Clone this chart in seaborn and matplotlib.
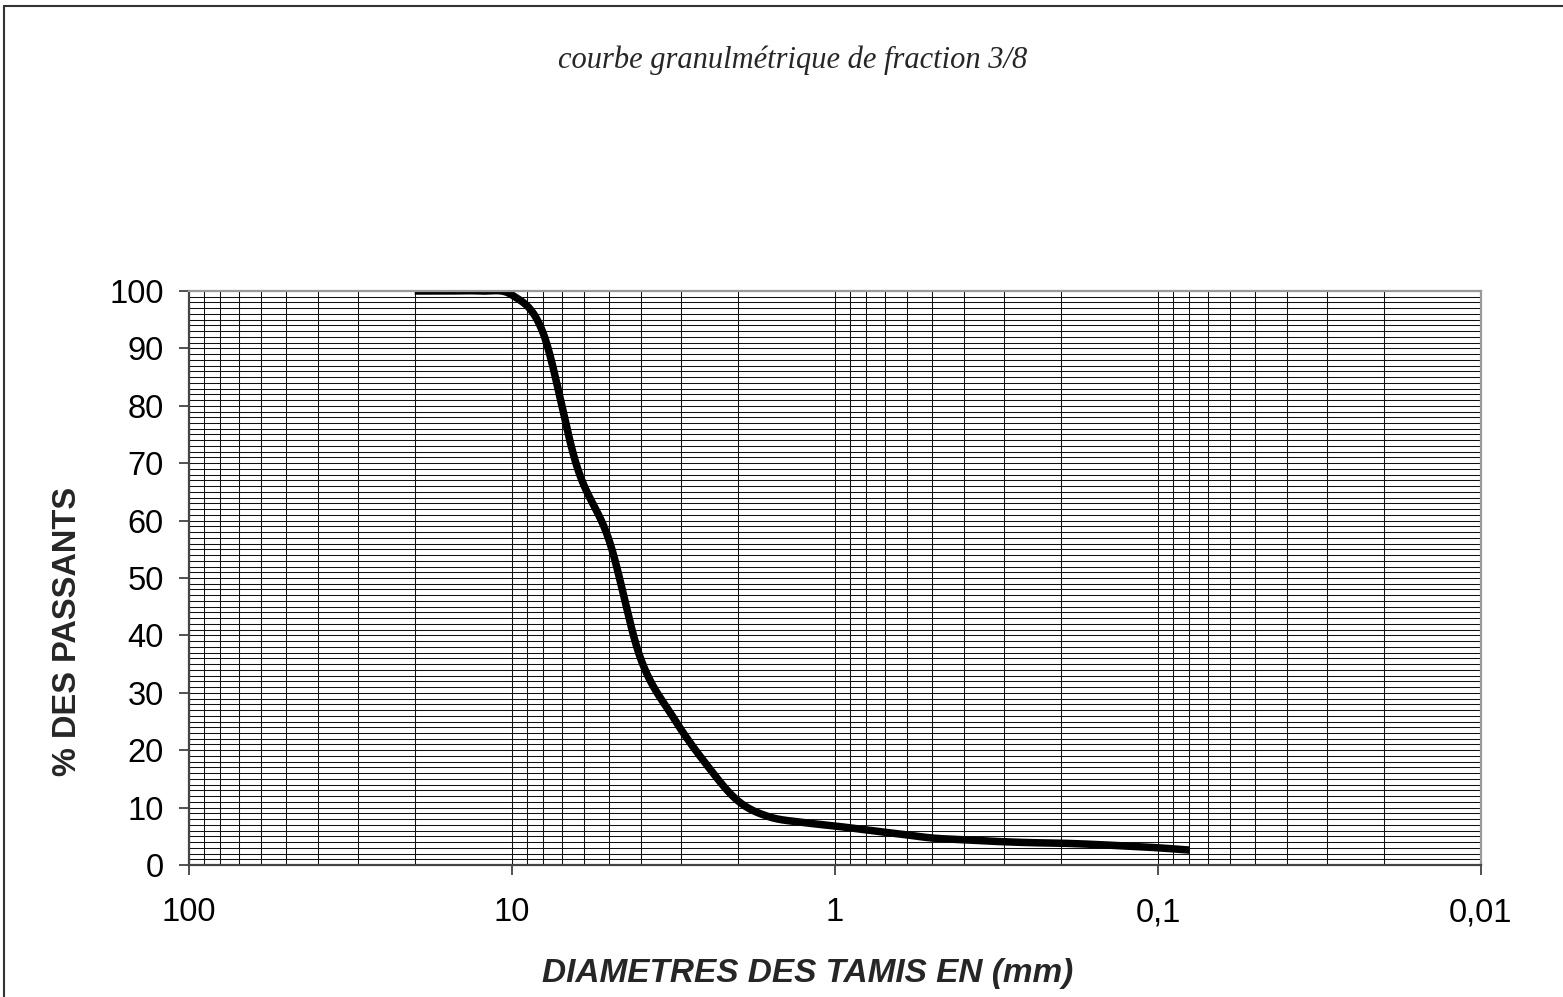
import numpy as np
import pandas as pd
import matplotlib
matplotlib.use("Agg")
import matplotlib.pyplot as plt
import matplotlib.ticker as mticker
from matplotlib.lines import Line2D
import seaborn as sns

# Sieve openings (mm) and cumulative passing (%) for the 3/8 fraction
sieve_mm = [20, 16, 12.5, 10, 8, 6.3, 5, 4, 3.15, 2.5, 2, 1.6, 1.25, 1,
            0.8, 0.63, 0.5, 0.4, 0.315, 0.25, 0.2, 0.16, 0.125, 0.1, 0.08]
passing_pct = [100, 100, 100, 99.3, 92.6, 69.5, 56.5, 36.0, 25.5, 17.5, 11.2,
               8.4, 7.4, 6.8, 6.1, 5.4, 4.7, 4.4, 4.1, 3.9, 3.8, 3.6, 3.3,
               3.0, 2.6]

x_ticks = [100, 10, 1, 0.1, 0.01]
x_tick_labels = ["100", "10", "1", "0,1", "0,01"]
y_ticks = list(range(0, 101, 10))

title_text = "courbe granulmétrique de fraction 3/8"
x_label = "DIAMETRES DES TAMIS EN (mm)"
y_label = "% DES PASSANTS"


def smooth_curve(xs, ys, n=24):
    """Spreadsheet-style smoothed line: cubic Bezier segments through each
    point, built in log10(x) space so the curve looks smooth on a log axis."""
    lx = np.log10(np.asarray(xs, dtype=float))
    yy = np.asarray(ys, dtype=float)
    pts = np.column_stack([lx, yy])
    out = []
    m = len(pts)
    for i in range(m - 1):
        p0 = pts[i - 1] if i > 0 else pts[i]
        p1, p2 = pts[i], pts[i + 1]
        p3 = pts[i + 2] if i + 2 < m else pts[i + 1]
        c1 = p1 + (p2 - p0) / 6.0
        c2 = p2 - (p3 - p1) / 6.0
        t = np.linspace(0, 1, n, endpoint=(i == m - 2))[:, None]
        seg = ((1 - t) ** 3) * p1 + 3 * ((1 - t) ** 2) * t * c1 \
            + 3 * (1 - t) * (t ** 2) * c2 + (t ** 3) * p2
        out.append(seg)
    arr = np.vstack(out)
    return pd.DataFrame({"diam": 10 ** arr[:, 0], "passing": arr[:, 1]})


sns.set_theme(style="white")
plt.rcParams["font.family"] = ["Liberation Sans", "DejaVu Sans"]

W, H, DPI = 1563, 997, 100
fig = plt.figure(figsize=(W / DPI, H / DPI), dpi=DPI)
fig.patch.set_facecolor("white")

# plot area in pixel terms
left_px, right_px, top_px, bottom_px = 189, 1481, 291, 865
ax = fig.add_axes([left_px / W, 1 - bottom_px / H,
                   (right_px - left_px) / W, (bottom_px - top_px) / H])
ax.set_facecolor("white")

ax.set_xscale("log")
ax.set_xlim(100, 0.01)
ax.set_ylim(0, 100)

# grid: every decade subdivision on x, every 1 % on y
ax.xaxis.set_major_locator(mticker.FixedLocator(x_ticks))
ax.xaxis.set_major_formatter(mticker.FixedFormatter(x_tick_labels))
ax.xaxis.set_minor_locator(mticker.LogLocator(base=10, subs=np.arange(2, 10), numticks=20))
ax.xaxis.set_minor_formatter(mticker.NullFormatter())
ax.yaxis.set_major_locator(mticker.FixedLocator(y_ticks))
ax.yaxis.set_minor_locator(mticker.MultipleLocator(1))

ax.grid(True, which="both", axis="both", color="#111111", linewidth=0.75)
ax.set_axisbelow(True)

ax.tick_params(axis="both", which="major", direction="out", length=7.2,
               width=1.2, color="#333333", labelsize=23.5, labelcolor="black")
ax.tick_params(axis="x", which="major", pad=16, bottom=True)
ax.tick_params(axis="y", which="major", pad=11, left=True)
ax.tick_params(axis="both", which="minor", length=0)

for side in ("left", "bottom"):
    ax.spines[side].set_color("#444444")
    ax.spines[side].set_linewidth(1.6)
for side in ("top", "right"):
    ax.spines[side].set_color("#9a9a9a")
    ax.spines[side].set_linewidth(1.6)

curve = smooth_curve(sieve_mm, passing_pct)
sns.lineplot(data=curve, x="diam", y="passing", sort=False, estimator=None,
             color="black", linewidth=5.4, ax=ax, solid_capstyle="butt")

ax.set_xlabel(x_label, fontsize=24, fontweight="bold", fontstyle="italic")
ax.set_ylabel(y_label, fontsize=23.5, fontweight="bold")
ax.xaxis.set_label_coords((808 - left_px) / (right_px - left_px),
                          (bottom_px - 973) / (bottom_px - top_px))
ax.xaxis.label.set_va("center")
ax.yaxis.set_label_coords((68 - left_px) / (right_px - left_px),
                          (bottom_px - 631) / (bottom_px - top_px))
ax.yaxis.label.set_va("center")

fig.text(793 / W, 1 - 60 / H, title_text, ha="center", va="center",
         fontsize=22, fontstyle="italic", family=["Liberation Serif", "DejaVu Serif"])

# outer chart frame (top and left edges)
fig.add_artist(Line2D([4 / W, 1.01], [1 - 6 / H, 1 - 6 / H], transform=fig.transFigure,
                      color="#333333", linewidth=1.5))
fig.add_artist(Line2D([4 / W, 4 / W], [1 - 6 / H, -0.01], transform=fig.transFigure,
                      color="#333333", linewidth=1.5))

fig.savefig("out.png", dpi=DPI, facecolor="white")
